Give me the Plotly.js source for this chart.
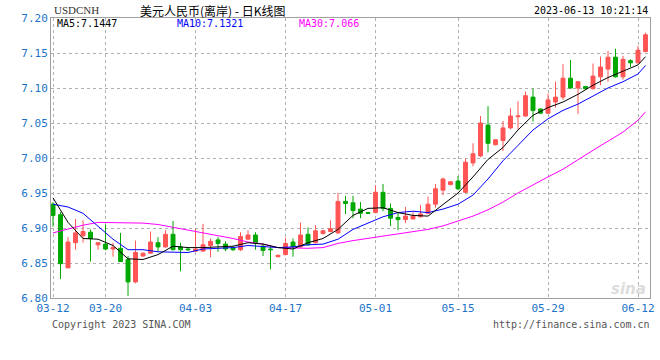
<!DOCTYPE html>
<html>
<head>
<meta charset="utf-8">
<script src="https://cdn.plot.ly/plotly-3.0.1.min.js"></script>
<style>html,body{margin:0;padding:0;background:#fff;}#chart{width:660px;height:360px;}</style>
</head>
<body>
<div id="chart"></div>
<script>
// Trading days (Mon–Sat sessions), 2023
const dates = ['03-12','03-13','03-14','03-15','03-16','03-17','03-18',
  '03-20','03-21','03-22','03-23','03-24','03-25',
  '03-27','03-28','03-29','03-30','03-31','04-01',
  '04-03','04-04','04-05','04-06','04-07','04-08',
  '04-10','04-11','04-12','04-13','04-14','04-15',
  '04-17','04-18','04-19','04-20','04-21','04-22',
  '04-24','04-25','04-26','04-27','04-28','04-29',
  '05-01','05-02','05-03','05-04','05-05',
  '05-08','05-09','05-10','05-11','05-12','05-13',
  '05-15','05-16','05-17','05-18','05-19','05-20',
  '05-22','05-23','05-24','05-25','05-26','05-27',
  '05-29','05-30','05-31','06-01','06-02','06-03',
  '06-05','06-06','06-07','06-08','06-09','06-10',
  '06-12','06-13'];

const open = [6.934,6.919,6.843,6.879,6.889,6.894,6.876,6.877,6.870,6.871,
  6.855,6.823,6.860,6.864,6.879,6.873,6.891,6.873,6.870,6.867,
  6.867,6.875,6.883,6.877,6.872,6.869,6.884,6.890,6.874,6.870,
  6.859,6.862,6.880,6.873,6.891,6.879,6.892,6.895,6.893,6.938,
  6.936,6.927,6.922,6.922,6.951,6.928,6.915,6.912,6.913,6.916,
  6.921,6.934,6.954,6.962,6.967,6.951,6.993,7.003,7.047,7.019,
  7.025,7.043,7.059,7.060,7.087,7.070,7.064,7.080,7.087,7.114,
  7.100,7.102,7.099,7.116,7.127,7.144,7.116,7.139,7.136,7.152];
const high = [6.937,6.923,6.887,6.913,6.911,6.898,6.880,6.905,6.879,6.893,
  6.860,6.882,6.865,6.895,6.887,6.897,6.910,6.879,6.871,6.899,
  6.906,6.885,6.887,6.881,6.874,6.894,6.897,6.894,6.878,6.874,
  6.862,6.886,6.885,6.908,6.901,6.904,6.897,6.911,6.950,6.946,
  6.946,6.937,6.923,6.961,6.963,6.935,6.923,6.930,6.923,6.933,
  6.945,6.963,6.972,6.967,6.974,6.999,7.021,7.060,7.074,7.027,
  7.053,7.071,7.081,7.095,7.099,7.071,7.092,7.109,7.134,7.140,
  7.110,7.103,7.135,7.145,7.153,7.156,7.146,7.141,7.160,7.179];
const low = [6.902,6.827,6.843,6.869,6.879,6.852,6.869,6.868,6.859,6.852,
  6.803,6.821,6.859,6.863,6.866,6.872,6.868,6.838,6.867,6.866,
  6.866,6.858,6.866,6.867,6.867,6.867,6.884,6.869,6.860,6.841,
  6.858,6.861,6.859,6.872,6.875,6.878,6.891,6.894,6.892,6.920,
  6.914,6.914,6.920,6.921,6.924,6.903,6.897,6.907,6.912,6.915,
  6.920,6.929,6.947,6.961,6.954,6.950,6.988,7.001,7.008,7.018,
  7.010,7.041,7.041,7.059,7.052,7.063,7.063,7.072,7.083,7.099,
  7.063,7.098,7.098,7.104,7.109,7.115,7.112,7.130,7.135,7.151];
const close = [6.918,6.849,6.880,6.893,6.895,6.885,6.879,6.870,6.872,6.852,
  6.823,6.865,6.864,6.880,6.873,6.891,6.869,6.869,6.869,6.870,
  6.876,6.881,6.878,6.870,6.869,6.888,6.890,6.879,6.868,6.869,
  6.861,6.878,6.873,6.890,6.876,6.896,6.896,6.899,6.938,6.935,
  6.925,6.921,6.921,6.951,6.928,6.914,6.912,6.917,6.917,6.920,
  6.934,6.956,6.970,6.966,6.956,6.994,7.006,7.050,7.021,7.026,
  7.043,7.060,7.060,7.089,7.068,7.064,7.083,7.087,7.114,7.100,
  7.109,7.099,7.117,7.130,7.144,7.116,7.141,7.136,7.154,7.176];

// Moving averages at every other session (plus the last one)
const maDates = dates.filter((d, i) => i % 2 === 0 || i === dates.length - 1);
const ma5 = [6.943,6.908,6.885,6.884,6.875,6.856,6.855,6.862,6.874,6.872,
  6.872,6.873,6.874,6.879,6.877,6.872,6.870,6.879,6.885,6.898,
  6.918,6.928,6.929,6.922,6.918,6.917,6.933,6.950,6.973,6.998,
  7.015,7.040,7.061,7.072,7.080,7.091,7.104,7.115,7.124,7.133,7.1447];
const ma10 = [6.934,6.930,6.921,6.902,6.884,6.869,6.869,6.866,6.866,6.865,
  6.870,6.871,6.872,6.875,6.874,6.872,6.873,6.876,6.877,6.884,
  6.898,6.907,6.916,6.922,6.924,6.922,6.927,6.934,6.947,6.970,
  6.996,7.018,7.040,7.056,7.068,7.077,7.088,7.100,7.109,7.120,7.1321];
const ma30 = [6.893,6.899,6.904,6.908,6.908,6.908,6.907,6.905,6.901,6.897,
  6.893,6.890,6.885,6.880,6.877,6.872,6.871,6.871,6.872,6.878,
  6.882,6.885,6.888,6.891,6.894,6.898,6.903,6.910,6.917,6.926,
  6.937,6.950,6.962,6.973,6.984,6.998,7.011,7.024,7.037,7.054,7.066];

const tickDates = ['03-12','03-20','04-03','04-17','05-01','05-15','05-29','06-12'];
const yTicks = [6.80,6.85,6.90,6.95,7.00,7.05,7.10,7.15,7.20];

const symbol = 'USDCNH';
const titleText = '美元人民币(离岸) - 日K线图';
const stamp = '2023-06-13 10:21:14';
const maLabels = ['MA5:7.1447','MA10:7.1321','MA30:7.066'];

const UP = '#ff5555', DOWN = '#00a800', BLUE = '#1a73c8';
const MONO = 'DejaVu Sans Mono, Liberation Mono, monospace';

const traces = [
  {type:'candlestick', x:dates, open:open, high:high, low:low, close:close,
   increasing:{line:{color:UP,width:1}, fillcolor:UP},
   decreasing:{line:{color:DOWN,width:1}, fillcolor:DOWN},
   whiskerwidth:0, hoverinfo:'skip', showlegend:false},
  {type:'scatter', mode:'lines', x:maDates, y:ma30, line:{color:'#ff00ff',width:1}, hoverinfo:'skip', showlegend:false},
  {type:'scatter', mode:'lines', x:maDates, y:ma10, line:{color:'#0000ff',width:1}, hoverinfo:'skip', showlegend:false},
  {type:'scatter', mode:'lines', x:maDates, y:ma5, line:{color:'#000000',width:1}, hoverinfo:'skip', showlegend:false}
];

const px = v => (v - 51) / 599;
const py = v => (298 - v) / 280;

const layout = {
  width:660, height:360,
  margin:{l:51, r:10, t:18, b:62, pad:0},
  paper_bgcolor:'#fff', plot_bgcolor:'#fff',
  hovermode:false, showlegend:false, boxgap:0.25,
  xaxis:{type:'category', range:[-0.27, 79.6], rangeslider:{visible:false},
    tickmode:'array', tickvals:tickDates, ticktext:tickDates,
    showgrid:true, gridcolor:'#b0b0b0', griddash:'dot', gridwidth:1,
    showline:true, linecolor:'#a0a0a0', linewidth:1, mirror:true,
    ticks:'', zeroline:false, tickfont:{family:MONO, size:11, color:BLUE}},
  yaxis:{range:[6.80, 7.20], tickmode:'array', tickvals:yTicks,
    ticktext:yTicks.map(v => v.toFixed(2)),
    showgrid:true, gridcolor:'#b0b0b0', griddash:'dot', gridwidth:1,
    showline:true, linecolor:'#a0a0a0', linewidth:1, mirror:true,
    ticks:'', zeroline:false, tickfont:{family:MONO, size:11, color:BLUE}},
  annotations:[
    {text:symbol, xref:'paper', yref:'paper', x:px(52), y:py(10), xanchor:'left', yanchor:'middle', showarrow:false,
     font:{family:'Liberation Serif, DejaVu Serif, serif', size:11, color:'#333'}},
    {text:titleText, xref:'paper', yref:'paper', x:px(213), y:py(10), xanchor:'center', yanchor:'middle', showarrow:false,
     font:{family:'Noto Sans CJK SC, sans-serif', size:12, color:'#000'}},
    {text:stamp, xref:'paper', yref:'paper', x:1, y:py(10), xanchor:'right', yanchor:'middle', showarrow:false,
     font:{family:MONO, size:10, color:'#000'}},
    {text:maLabels[0], xref:'paper', yref:'paper', x:px(55), y:py(23.5), xanchor:'left', yanchor:'middle', showarrow:false,
     font:{family:MONO, size:10, color:'#000'}},
    {text:maLabels[1], xref:'paper', yref:'paper', x:px(175), y:py(23.5), xanchor:'left', yanchor:'middle', showarrow:false,
     font:{family:MONO, size:10, color:'#0000ff'}},
    {text:maLabels[2], xref:'paper', yref:'paper', x:px(297), y:py(23.5), xanchor:'left', yanchor:'middle', showarrow:false,
     font:{family:MONO, size:10, color:'#ff00ff'}},
    {text:'Copyright 2023 SINA.COM', xref:'paper', yref:'paper', x:px(50), y:py(324), xanchor:'left', yanchor:'middle', showarrow:false,
     font:{family:MONO, size:10, color:'#555'}},
    {text:'http://finance.sina.com.cn', xref:'paper', yref:'paper', x:px(652), y:py(324), xanchor:'right', yanchor:'middle', showarrow:false,
     font:{family:MONO, size:10, color:'#555'}},
    {text:'<b><i>sina</i></b>', xref:'paper', yref:'paper', x:px(648), y:py(289), xanchor:'right', yanchor:'middle', showarrow:false,
     font:{family:'DejaVu Sans, sans-serif', size:15, color:'#dcdcdc'}}
  ]
};

Plotly.newPlot('chart', traces, layout, {staticPlot:true, displayModeBar:false});
</script>
</body>
</html>
